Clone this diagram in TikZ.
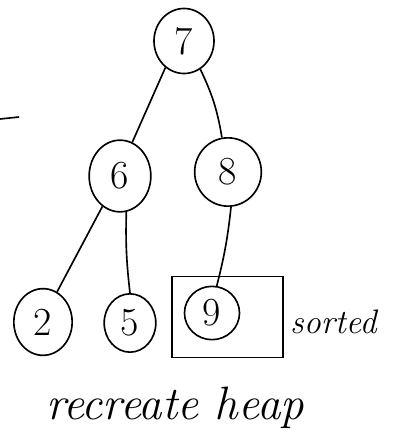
\documentclass[tikz,border=0pt]{standalone}
\usetikzlibrary{shapes.geometric}
\begin{document}
\begin{tikzpicture}[x=0.03cm,y=-0.03cm,
  hnode/.style={draw,ellipse,line width=1.4pt,inner sep=0pt,font=\fontsize{34}{34}\selectfont},
  hedge/.style={line width=1.4pt},
  htext/.style={font=\itshape\fontsize{29}{29}\selectfont,inner sep=0pt}]
\useasboundingbox (0,0) rectangle (396,448);
\node[hnode,minimum width=1.8cm,minimum height=1.95cm] (n7) at (184,41) {7};
\node[hnode,minimum width=1.85cm,minimum height=2.15cm] (n6) at (120,176) {6};
\node[hnode,minimum width=2.0cm,minimum height=2.05cm] (n8) at (228,172) {8};
\node[hnode,minimum width=1.75cm,minimum height=2.0cm] (n2) at (43,322) {2};
\node[hnode,minimum width=1.55cm,minimum height=1.75cm] (n5) at (130,323) {5};
\node[hnode,minimum width=1.65cm,minimum height=1.6cm] (n9) at (212,313) {9};
\node[draw,line width=1.4pt,minimum width=3.33cm,minimum height=2.43cm,inner sep=0pt] (box) at (227.5,317) {};
\node[htext,anchor=west] (sorted) at (290,322) {sorted};
\node[htext,font=\itshape\fontsize{40}{40}\selectfont] (heap) at (175,408) {recreate heap};
\coordinate (d1) at (0,119);
\coordinate (d2) at (19,117);
\draw[hedge] (d1) -- (d2);
\draw[hedge] (n7.235) -- (n6.70);
\draw[hedge] (n7.300) to[bend left=8] (n8.100);
\draw[hedge] (n6.240) -- (n2.65);
\draw[hedge] (n6.280) to[bend right=4] (n5.90);
\draw[hedge] (n8.275) to[bend left=4] (n9.80);
\end{tikzpicture}
\end{document}
